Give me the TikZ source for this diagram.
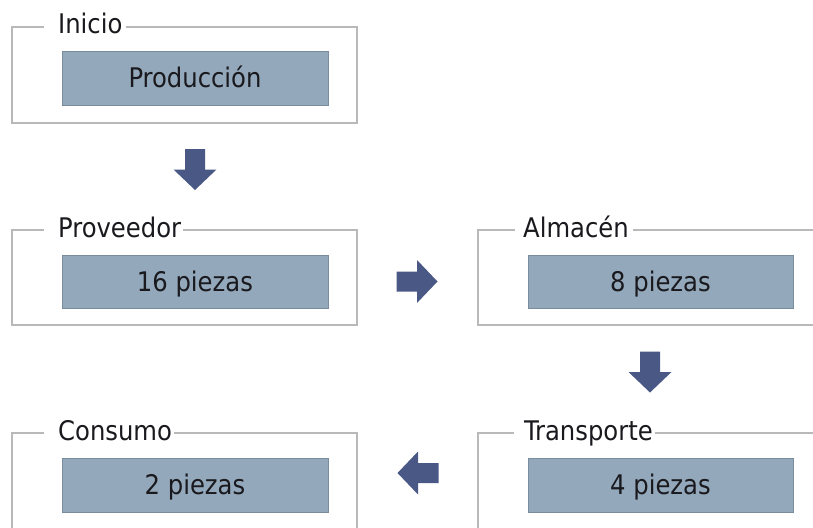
\documentclass[tikz,border=0pt]{standalone}
\usepackage{fontspec}
\setmainfont{DejaVu Sans Condensed}
\usetikzlibrary{calc}
\definecolor{cellfill}{RGB}{147,168,186}
\definecolor{celledge}{RGB}{122,140,158}
\definecolor{framegray}{RGB}{185,185,185}
\definecolor{arrowblue}{RGB}{74,88,134}
\definecolor{inktext}{RGB}{25,25,30}
\tikzset{
  cell/.style={draw=celledge, line width=0.9pt, fill=cellfill, inner sep=0pt,
    text=inktext, text height=19pt, text depth=0pt,
    font=\fontsize{27}{32}\selectfont},
  lbl/.style={anchor=base west, inner sep=0pt, text=inktext,
    font=\fontsize{27}{32}\selectfont},
  framel/.style={draw=framegray, line width=1.4pt},
  pics/blockarrow/.style={code={
    \fill[arrowblue] (-20.5,-10) -- (0,-10) -- (0,-21.5) -- (20.5,0)
      -- (0,21.5) -- (0,10) -- (-20.5,10) -- cycle;}}
}
\begin{document}
\begin{tikzpicture}[x=1pt, y=-1pt]
\useasboundingbox (0,0) rectangle (813,527);
\clip (0,0) rectangle (813,527);

% group labels
\node[lbl] (l1) at (58,34)  {Inicio};
\node[lbl] (l2) at (58,237) {Proveedor};
\node[lbl] (l3) at (523,237) {Almacén};
\node[lbl] (l4) at (58,440) {Consumo};
\node[lbl] (l5) at (524,440) {Transporte};

% group frames, open where the label sits
\draw[framel] ([xshift=3pt]l1.east |- 0,27) -- (357,27) -- (357,123)
  -- (12,123) -- (12,27) -- ([xshift=-14pt]l1.west |- 0,27);
\draw[framel] ([xshift=2pt]l2.east |- 0,230) -- (357,230) -- (357,325)
  -- (12,325) -- (12,230) -- ([xshift=-14pt]l2.west |- 0,230);
\draw[framel] ([xshift=4pt]l3.east |- 0,230) -- (830,230);
\draw[framel] (830,325) -- (478,325) -- (478,230) -- ([xshift=-8pt]l3.west |- 0,230);
\draw[framel] ([xshift=2pt]l4.east |- 0,433) -- (357,433) -- (357,540);
\draw[framel] (12,540) -- (12,433) -- ([xshift=-14pt]l4.west |- 0,433);
\draw[framel] ([xshift=2pt]l5.east |- 0,433) -- (830,433);
\draw[framel] (478,540) -- (478,433) -- ([xshift=-10pt]l5.west |- 0,433);

% value cells
\node[cell, minimum width=266pt, minimum height=54pt] (b1) at (195,78)    {Producción};
\node[cell, minimum width=266pt, minimum height=53pt] (b2) at (195,281.5) {16 piezas};
\node[cell, minimum width=265pt, minimum height=53pt] (b3) at (660.5,281.5) {8 piezas};
\node[cell, minimum width=266pt, minimum height=54pt] (b4) at (195,485)   {2 piezas};
\node[cell, minimum width=265pt, minimum height=54pt] (b5) at (660.5,485) {4 piezas};

% flow arrows between the groups
\coordinate (a1) at (b1.center |- 0,169.5);
\coordinate (a2) at (417,0 |- b2.center);
\coordinate (a3) at (650,372);
\coordinate (a4) at (418,473);
\pic[rotate=-90] at (a1) {blockarrow};
\pic at (a2) {blockarrow};
\pic[rotate=-90] at (a3) {blockarrow};
\pic[rotate=180] at (a4) {blockarrow};
\end{tikzpicture}
\end{document}
